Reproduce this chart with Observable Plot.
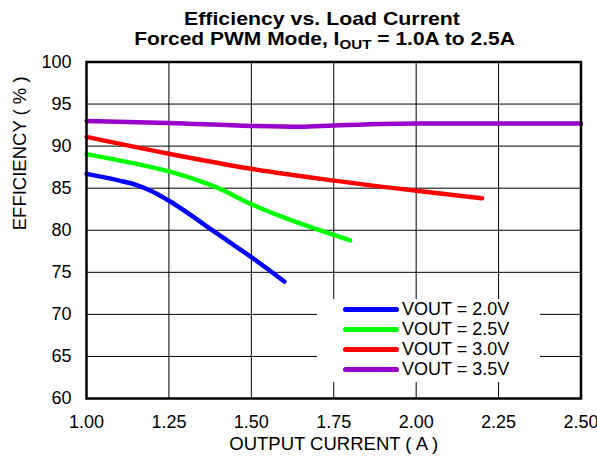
<!DOCTYPE html>
<html>
<head>
<meta charset="utf-8">
<script src="https://cdn.jsdelivr.net/npm/d3@7"></script>
<script src="https://cdn.jsdelivr.net/npm/@observablehq/plot@0.6"></script>
<style>
  html, body { margin: 0; padding: 0; background: #fff; }
  #wrap { position: relative; width: 597px; height: 464px; font-family: "Liberation Sans", Arial, sans-serif; }
  #title { position: absolute; left: 0; top: 0; }
  #legend { position: absolute; left: 317px; top: 298.5px; width: 223px; height: 83px; background: #fff; }
  .row { position: absolute; left: 0; height: 20px; width: 223px; }
  .sw { position: absolute; left: 26px; top: 7.5px; width: 56px; height: 5px; border-radius: 3px; }
  .lt { position: absolute; left: 85px; top: 0; font-size: 18px; line-height: 20px; color: #000; white-space: nowrap; }
</style>
</head>
<body>
<div id="wrap"></div>
<script>
// ---- data ----
const seriesNames = ["VOUT = 2.0V", "VOUT = 2.5V", "VOUT = 3.0V", "VOUT = 3.5V"];
const seriesColors = ["#0000FF", "#00FF00", "#FF0000", "#9900CC"];

const iout20 = [1.0, 1.1, 1.15, 1.2, 1.25, 1.4, 1.5, 1.6];
const eff20  = [86.7, 85.9, 85.4, 84.6, 83.5, 79.5, 76.8, 73.9];

const iout25 = [1.0, 1.15, 1.25, 1.4, 1.5, 1.6, 1.7, 1.8];
const eff25  = [89.05, 87.9, 87.0, 85.0, 83.1, 81.5, 80.1, 78.8];

const iout30 = [1.0, 1.25, 1.5, 1.75, 2.0, 2.2];
const eff30  = [91.1, 89.1, 87.3, 85.9, 84.7, 83.8];

const iout35 = [1.0, 1.25, 1.5, 1.65, 1.75, 2.0, 2.25, 2.5];
const eff35  = [93.0, 92.75, 92.4, 92.3, 92.45, 92.68, 92.7, 92.7];

const xTicks = [1.0, 1.25, 1.5, 1.75, 2.0, 2.25, 2.5];
const yTicks = [60, 65, 70, 75, 80, 85, 90, 95, 100];
const xGrid = [1.25, 1.5, 1.75, 2.0, 2.25];
const yGrid = [65, 70, 75, 80, 85, 90, 95];

const titleLine1 = "Efficiency vs. Load Current";
const titleLine2a = "Forced PWM Mode, I";
const titleLine2sub = "OUT";
const titleLine2b = " = 1.0A to 2.5A";
const xLabel = "OUTPUT CURRENT ( A )";
const yLabel = "EFFICIENCY ( % )";

const allX = [iout20, iout25, iout30, iout35];
const allY = [eff20, eff25, eff30, eff35];
const rows = [];
allX.forEach((xs, s) => xs.forEach((x, i) => rows.push({series: seriesNames[s], x, y: allY[s][i]})));

const chart = Plot.plot({
  width: 597,
  height: 464,
  marginLeft: 86,
  marginRight: 16.5,
  marginTop: 61.5,
  marginBottom: 66,
  style: {fontFamily: "'Liberation Sans', Arial, sans-serif", fontSize: "18px", color: "#000", background: "transparent"},
  x: {domain: [1, 2.5]},
  y: {domain: [60, 100]},
  color: {domain: seriesNames, range: seriesColors},
  marks: [
    Plot.gridX(xGrid, {stroke: "#000", strokeOpacity: 1, strokeWidth: 1}),
    Plot.gridY(yGrid, {stroke: "#000", strokeOpacity: 1, strokeWidth: 1}),
    Plot.axisX(xTicks, {tickSize: 0, tickPadding: 17, tickFormat: d3.format(".2f"), label: null, fontSize: 18}),
    Plot.axisY(yTicks, {tickSize: 0, tickPadding: 15, tickFormat: d => String(d), label: null, fontSize: 18}),
    Plot.line(rows, {x: "x", y: "y", z: "series", stroke: "series", strokeWidth: 4.5, curve: "monotone-x", strokeLinecap: "round", strokeLinejoin: "round"}),
    Plot.frame({stroke: "#000", strokeWidth: 2.5}),
    Plot.text([xLabel], {frameAnchor: "bottom", dy: 51, fontSize: 18.5, fill: "#000"}),
    Plot.text([yLabel], {frameAnchor: "left", dx: -66, rotate: -90, fontSize: 18.5, fill: "#000"})
  ]
});

const wrap = document.getElementById("wrap");
wrap.appendChild(chart);

// title overlay
const tsvg = d3.select(wrap).append("svg")
  .attr("id", "title").attr("width", 597).attr("height", 58)
  .style("font-family", "'Liberation Sans', Arial, sans-serif")
  .style("font-weight", "bold");
const t1 = tsvg.append("text").attr("x", 322).attr("y", 25).attr("text-anchor", "middle").attr("font-size", 18).text(titleLine1);
const t2 = tsvg.append("text").attr("x", 324.5).attr("y", 45).attr("text-anchor", "middle").attr("font-size", 18);
t2.append("tspan").text(titleLine2a);
t2.append("tspan").attr("font-size", 13).attr("dy", 4).text(titleLine2sub);
t2.append("tspan").attr("dy", -4).text(titleLine2b);

// stretch title lines horizontally to the reference widths
function fitWidth(sel, cx, target) {
  const w = sel.node().getBBox().width;
  if (w > 0) {
    const s = target / w;
    sel.attr("transform", `translate(${cx},0) scale(${s},1) translate(${-cx},0)`);
  }
}
fitWidth(t1, 322, 276);
fitWidth(t2, 324.5, 381);

// legend overlay
const leg = d3.select(wrap).append("div").attr("id", "legend");
const rowTops = [0.5, 20.8, 40.8, 60.8];
seriesNames.forEach((name, i) => {
  const r = leg.append("div").attr("class", "row").style("top", rowTops[i] + "px");
  r.append("div").attr("class", "sw").style("background", seriesColors[i]);
  r.append("div").attr("class", "lt").text(name);
});
</script>
</body>
</html>
